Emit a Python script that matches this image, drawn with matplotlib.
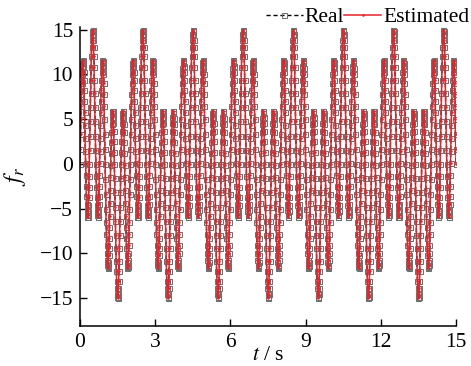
import numpy as np
import matplotlib
matplotlib.use("Agg")
import matplotlib.pyplot as plt

plt.rcParams["font.family"] = ["Liberation Serif", "DejaVu Serif"]
plt.rcParams["mathtext.fontset"] = "stix"

# sampling step of the recorded force signal (s)
dt = 0.01
t_end = 15.0

# one half-period (0 .. 0.99 s) of the real force; the next second is the mirror with opposite sign
f_half = [
    0.00, 1.72, 3.40, 5.01, 6.51, 7.85, 9.03, 10.00, 10.75, 11.27,
    11.55, 11.57, 11.35, 10.90, 10.22, 9.34, 8.29, 7.09, 5.77, 4.37,
    2.94, 1.50, 0.10, -1.23, -2.46, -3.54, -4.45, -5.16, -5.66, -5.93,
    -5.96, -5.74, -5.29, -4.61, -3.71, -2.62, -1.35, 0.05, 1.56, 3.14,
    4.76, 6.37, 7.93, 9.42, 10.79, 12.01, 13.05, 13.89, 14.50, 14.87,
    15.00, 14.87, 14.50, 13.89, 13.05, 12.01, 10.79, 9.42, 7.93, 6.37,
    4.76, 3.14, 1.56, 0.05, -1.35, -2.62, -3.71, -4.61, -5.29, -5.74,
    -5.96, -5.93, -5.66, -5.16, -4.45, -3.54, -2.46, -1.23, 0.10, 1.50,
    2.94, 4.37, 5.77, 7.09, 8.29, 9.34, 10.22, 10.90, 11.35, 11.57,
    11.55, 11.27, 10.75, 10.00, 9.03, 7.85, 6.51, 5.01, 3.40, 1.72,
]

x_ticks = [0, 3, 6, 9, 12, 15]
y_ticks = [-15, -10, -5, 0, 5, 10, 15]

n = int(round(t_end / dt)) + 1
t = np.arange(n) * dt
period = np.concatenate([f_half, -np.array(f_half)])
f_real = np.tile(period, n // len(period) + 1)[:n]
f_est = f_real.copy()

fig = plt.figure(figsize=(4.71, 3.66), dpi=100)
ax = fig.add_axes([0.1699, 0.1093, 0.7983, 0.8169])

ax.plot(t, f_real, color="black", linestyle=(0, (3, 2)), linewidth=1.0,
        marker="s", markersize=3.6, markerfacecolor="none",
        markeredgecolor="#707070", markeredgewidth=0.75, label="Real")
ax.plot(t, f_est, color="#e3242b", linewidth=1.1, marker="o",
        markersize=1.8, markeredgewidth=0, label="Estimated")

ax.set_xlim(0, 15)
ax.set_ylim(-18.1, 15.3)
ax.set_xticks(x_ticks)
ax.set_yticks(y_ticks)
ax.tick_params(direction="in", length=5, width=1.0, labelsize=15.5, pad=5)
for side in ("top", "right"):
    ax.spines[side].set_visible(False)
for side in ("left", "bottom"):
    ax.spines[side].set_linewidth(1.1)

ax.set_xlabel(r"$t$ / s", fontsize=15.5, labelpad=-4)
ax.set_ylabel(r"$f_r$", fontsize=17, labelpad=8)

fig.legend(loc="upper right", bbox_to_anchor=(1.0236, 1.0155), ncol=2,
           frameon=False, fontsize=15.5, handlelength=1.7,
           handletextpad=0.1, columnspacing=0.0, borderpad=0.1)

fig.savefig("out.png", dpi=100)
